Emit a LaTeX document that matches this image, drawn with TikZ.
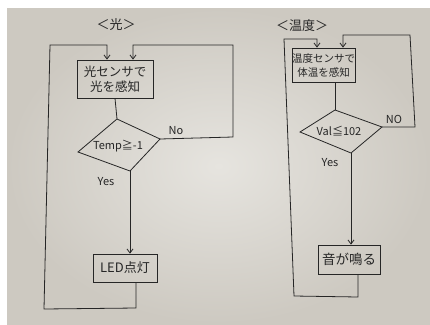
\documentclass[tikz,border=0pt]{standalone}
\usepackage{fontspec}
\setmainfont{Noto Sans CJK JP}
\usetikzlibrary{arrows.meta}
\definecolor{ink}{HTML}{262626}
\definecolor{paperin}{HTML}{E6E4DF}
\definecolor{paperout}{HTML}{CDC9C1}
\begin{document}
\begin{tikzpicture}[x=1pt,y=-1pt,
  box/.style={draw=ink, line width=0.8pt, inner sep=0pt, text=ink, font=\fontsize{12.5}{15}\selectfont, align=center},
  flow/.style={draw=ink, line width=0.8pt},
  arr/.style={-{Straight Barb[length=4pt,width=6pt]}},
  lbl/.style={font=\fontsize{11}{13}\selectfont, text=ink},
  ttl/.style={font=\fontsize{13}{15}\selectfont, text=ink}]
\useasboundingbox (0,0) rectangle (430,324);
\fill[white] (0,0) rectangle (430,324);
\shade[inner color=paperin, outer color=paperout] (7,8) rectangle (430,324);

% ---------- left chart ----------
\node[ttl] (t1) at (116,25) {＜光＞};
\node[box, minimum width=76pt, minimum height=38pt] (s1) at (115,79) {光センサで\\光を感知};
\coordinate (d1t) at (117,119);
\coordinate (d1r) at (160,139);
\coordinate (d1b) at (130,171);
\coordinate (d1l) at (78,152);
\draw[flow] (d1t) -- (d1r) -- (d1b) -- (d1l) -- cycle;
\node[lbl] (c1) at (118,146) {Temp≧-1};
\node[box, minimum width=64pt, minimum height=28pt, font=\fontsize{13}{15}\selectfont] (led) at (125,268) {LED点灯};
\node[lbl] (no1) at (176,131) {No};
\node[lbl] (yes1) at (106,182) {Yes};
\coordinate (l1a) at (136,308);
\coordinate (l1b) at (44,309);
\coordinate (l1c) at (50,45);
\coordinate (l1d) at (107,45);
\coordinate (r1a) at (233,137);
\coordinate (r1b) at (233,45);
\coordinate (r1c) at (133,45);

\draw[flow] (s1.south) -- (d1t);
\draw[flow, arr] (d1b) -- (d1b |- led.north);
\draw[flow, arr] (led.south -| l1a) -- (l1a) -- (l1b) -- (l1c) -- (l1d) -- (l1d |- s1.north);
\draw[flow, arr] (d1r) -- (r1a) -- (r1b) -- (r1c) -- (r1c |- s1.north);

% ---------- right chart ----------
\node[ttl] (t2) at (302,26) {＜温度＞};
\node[box, minimum width=59pt, minimum height=34pt, font=\fontsize{10.5}{14}\selectfont] (s2) at (323.5,65) {温度センサで\\体温を感知};
\coordinate (d2t) at (335,110);
\coordinate (d2r) at (382,127);
\coordinate (d2b) at (351,153);
\coordinate (d2l) at (300,132);
\draw[flow] (d2t) -- (d2r) -- (d2b) -- (d2l) -- cycle;
\node[lbl] (c2) at (339,131) {Val≦102};
\node[box, minimum width=62pt, minimum height=29pt, font=\fontsize{13.5}{15}\selectfont] (snd) at (349,259.5) {音が鳴る};
\node[lbl] (no2) at (394,119) {NO};
\node[lbl] (yes2) at (330,163) {Yes};
\coordinate (l2a) at (358,297);
\coordinate (l2b) at (294,296);
\coordinate (l2c) at (284,39);
\coordinate (l2d) at (317,39);
\coordinate (r2a) at (415,127);
\coordinate (r2b) at (410,35);
\coordinate (r2c) at (343,35);

\draw[flow] (d2t |- s2.south) -- (d2t);
\draw[flow, arr] (d2b) -- (d2b |- snd.north);
\draw[flow, arr] (snd.south -| l2a) -- (l2a) -- (l2b) -- (l2c) -- (l2d) -- (l2d |- s2.north);
\draw[flow, arr] (d2r) -- (r2a) -- (r2b) -- (r2c) -- (r2c |- s2.north);
\end{tikzpicture}
\end{document}
